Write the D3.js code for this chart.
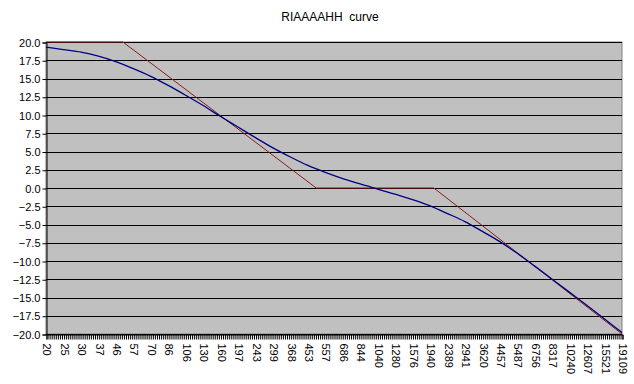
<!DOCTYPE html>
<html>
<head>
<meta charset="utf-8">
<style>
  body { margin: 0; background: #fff; }
  .chart text { font-family: "Liberation Sans", Arial, sans-serif; fill: #000; }
</style>
</head>
<body>
<div class="chart"></div>
<script src="https://cdn.jsdelivr.net/npm/d3@7"></script>
<script>
  // x axis labels (Hz), one label every 9 bins
  const xLabels = [20, 25, 30, 37, 46, 57, 70, 86, 106, 130, 160, 197, 243, 299, 368, 453,
                   557, 686, 844, 1040, 1280, 1576, 1940, 2389, 2941, 3620, 4457, 5487,
                   6756, 8317, 10240, 12607, 15521, 19109];
  // blue curve, dB at each labelled frequency
  const curveDb = [19.3, 18.95, 18.6, 18.05, 17.3, 16.35, 15.3, 14.05, 12.7, 11.3, 9.8, 8.35,
                   6.9, 5.5, 4.25, 3.1, 2.15, 1.3, 0.55, -0.15, -0.85, -1.6, -2.45, -3.5,
                   -4.6, -5.95, -7.35, -8.95, -10.7, -12.5, -14.3, -16.1, -17.95, -19.8];
  // red asymptotes: breakpoints (Hz) and dB
  const asymFreq = [20, 50, 500, 2030, 19109];
  const asymDb = [20, 20, 0, 0, -20];
  const yTicks = [20, 17.5, 15, 12.5, 10, 7.5, 5, 2.5, 0, -2.5, -5, -7.5, -10, -12.5, -15, -17.5, -20];

  const width = 634, height = 384;
  const plotL = 46, plotR = 622, plotT = 42, plotB = 334;
  const binsPerLabel = 9;
  const nBins = (xLabels.length - 1) * binsPerLabel;

  const svg = d3.select('.chart').append('svg')
    .attr('width', width)
    .attr('height', height);

  const xScale = d3.scaleLinear().domain([0, nBins]).range([plotL, plotR]);
  const freqToBin = d3.scaleLog().domain([xLabels[0], xLabels[xLabels.length - 1]]).range([0, nBins]);
  const yScale = d3.scaleLinear().domain([-20, 20]).range([plotB, plotT]);

  // plot area
  svg.append('rect')
    .attr('x', plotL).attr('y', plotT)
    .attr('width', plotR - plotL).attr('height', plotB - plotT)
    .attr('fill', '#c0c0c0')
    .attr('stroke', '#808080')
    .attr('stroke-width', 1);

  // grid lines
  svg.append('g')
    .selectAll('line')
    .data(yTicks)
    .join('line')
    .attr('x1', plotL).attr('x2', plotR)
    .attr('y1', d => Math.round(yScale(d)) + 0.5)
    .attr('y2', d => Math.round(yScale(d)) + 0.5)
    .attr('stroke', '#000')
    .attr('stroke-width', 1);

  // title
  svg.append('text')
    .attr('x', 330).attr('y', 21)
    .attr('text-anchor', 'middle')
    .style('font-size', '12px')
    .style('white-space', 'pre')
    .text('RIAAAAHH  curve');

  // y axis
  const yAxis = d3.axisLeft(yScale)
    .tickValues(yTicks)
    .tickSize(4)
    .tickFormat(d3.format('.1f'));
  const yAxisGroup = svg.append('g')
    .attr('transform', `translate(${plotL + 0.5},0.5)`)
    .call(yAxis);
  yAxisGroup.select('.domain').attr('stroke', '#000');
  yAxisGroup.selectAll('text')
    .style('font-size', '11px')
    .attr('x', -6)
    .attr('fill', '#000');

  // x axis: one tick per bin, label every 9 bins
  const xAxis = d3.axisBottom(xScale)
    .tickValues(d3.range(0, nBins + 1))
    .tickSize(5)
    .tickFormat(i => i % binsPerLabel === 0 ? xLabels[i / binsPerLabel] : '');
  const xAxisGroup = svg.append('g')
    .attr('transform', `translate(0.5,${plotB + 0.5})`)
    .call(xAxis);
  xAxisGroup.select('.domain').attr('stroke', '#000');
  xAxisGroup.selectAll('text')
    .style('font-size', '11px')
    .attr('fill', '#000')
    .attr('y', 0)
    .attr('dy', '0.35em')
    .attr('transform', 'translate(0,9) rotate(90)')
    .style('text-anchor', 'start');

  // red asymptote line
  const asymData = asymFreq.map((f, i) => [f, asymDb[i]]);
  svg.append('path')
    .attr('d', d3.line()
      .x(d => xScale(freqToBin(d[0])))
      .y(d => yScale(d[1]))(asymData))
    .attr('fill', 'none')
    .attr('stroke', '#8b1a1a')
    .attr('stroke-width', 1);

  // blue curve
  const curveData = xLabels.map((f, i) => [i * binsPerLabel, curveDb[i]]);
  svg.append('path')
    .attr('d', d3.line()
      .curve(d3.curveMonotoneX)
      .x(d => xScale(d[0]))
      .y(d => yScale(d[1]))(curveData))
    .attr('fill', 'none')
    .attr('stroke', '#000080')
    .attr('stroke-width', 1.3);
</script>
</body>
</html>
